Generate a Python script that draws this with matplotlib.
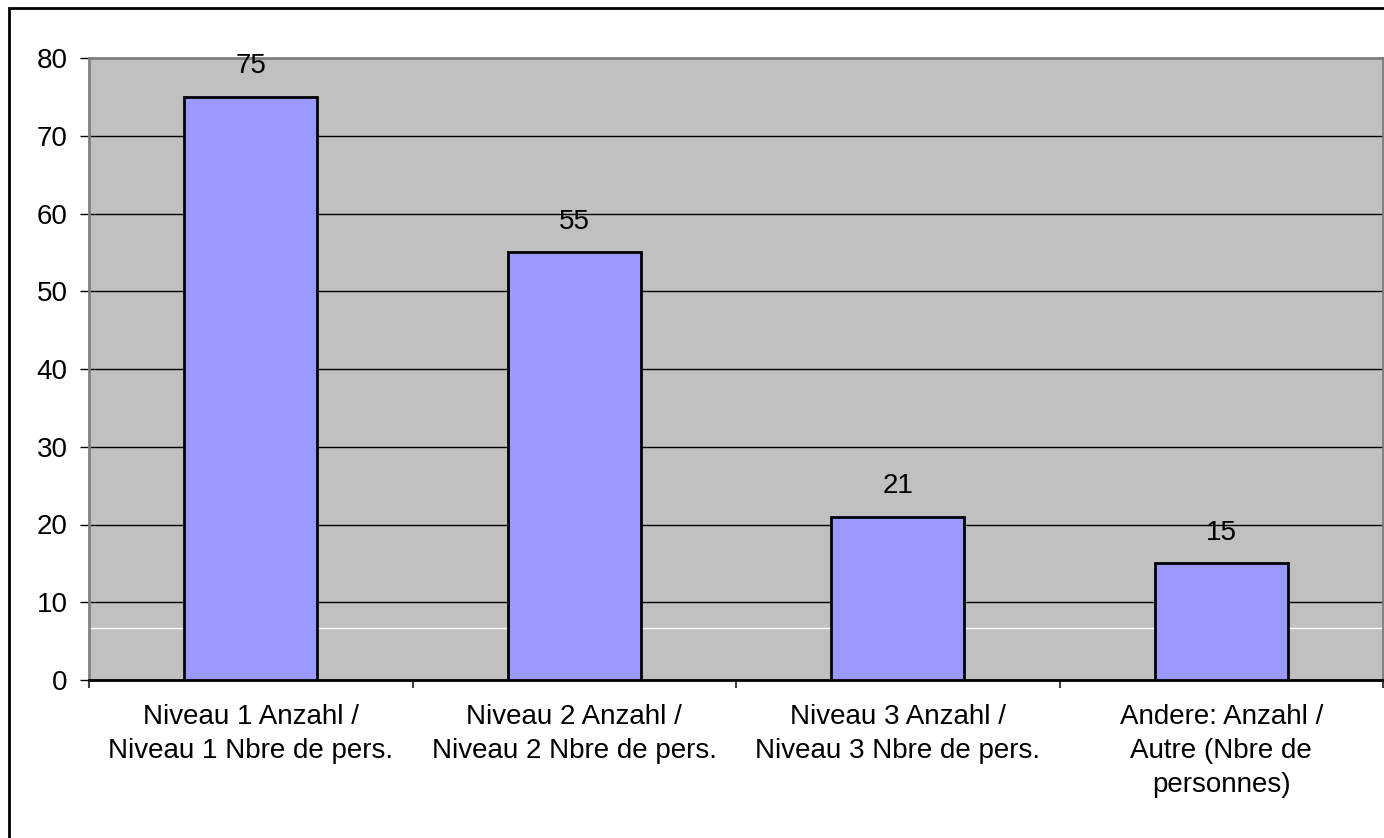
import matplotlib
matplotlib.use("Agg")
import matplotlib.pyplot as plt
from matplotlib.patches import Rectangle

categories = ["Niveau 1 Anzahl /\nNiveau 1 Nbre de pers.",
              "Niveau 2 Anzahl /\nNiveau 2 Nbre de pers.",
              "Niveau 3 Anzahl /\nNiveau 3 Nbre de pers.",
              "Andere: Anzahl /\nAutre (Nbre de\npersonnes)"]
values = [75, 55, 21, 15]
yticks = [0, 10, 20, 30, 40, 50, 60, 70, 80]

plt.rcParams['font.family'] = ['Liberation Sans', 'DejaVu Sans']
FS = 20

W, H = 1384, 838
fig = plt.figure(figsize=(W/100, H/100), dpi=100)
ax = fig.add_axes([89/W, 1-680/H, (1383-89)/W, (680-58)/H])
ax.set_facecolor('#C0C0C0')

x = list(range(len(values)))
ax.bar(x, values, width=0.41, color='#9999FF', edgecolor='black', linewidth=2, zorder=3)
for xi, v in zip(x, values):
    ax.annotate(str(v), (xi, v), xytext=(0, 22), textcoords='offset points',
                ha='center', va='center', fontsize=FS, zorder=4)

ax.set_xlim(-0.5, len(values)-0.5)
ax.set_ylim(0, 80)
ax.set_yticks(yticks)
ax.set_yticklabels([str(t) for t in yticks], fontsize=FS)
ax.yaxis.grid(True, color='black', linewidth=1, zorder=1)
ax.set_axisbelow(True)
ax.axhline(6.7, color='white', linewidth=1, zorder=2)
ax.tick_params(axis='y', length=6.5, width=1, pad=9)

ax.set_xticks([i - 0.5 for i in range(len(values)+1)], minor=False)
ax.set_xticklabels([])
ax.tick_params(axis='x', length=6, width=1.5, color='#404040')
ax.set_xticks(x, minor=True)
ax.set_xticklabels(categories, minor=True, fontsize=FS, linespacing=1.38)
ax.tick_params(axis='x', which='minor', length=0, pad=17.5)

for s in ['left', 'top', 'right']:
    ax.spines[s].set_color('#808080')
    ax.spines[s].set_linewidth(2)
ax.spines['bottom'].set_color('black')
ax.spines['bottom'].set_linewidth(2)

fig.patches.append(Rectangle((9/W, -0.01), 1.1, 1-8/H+0.01, transform=fig.transFigure,
                             fill=False, edgecolor='black', linewidth=2))

fig.savefig('out.png', dpi=100)
